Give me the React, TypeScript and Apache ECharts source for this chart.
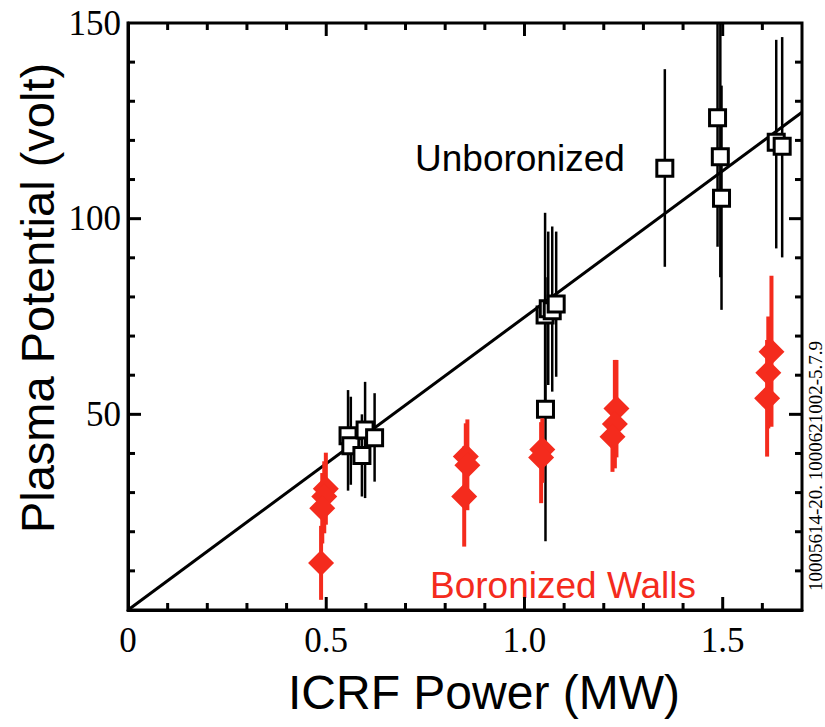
import React, { useEffect, useRef } from "react";
import * as echarts from "echarts";

// Unboronized walls: ICRF power (MW), plasma potential (V), error bar low / high
const unbPower = [0.555, 0.562, 0.598, 0.590, 0.622, 1.052, 1.060, 1.070, 1.080, 1.053, 1.354, 1.487, 1.494, 1.497, 1.635, 1.650];
const unbPotential = [44.5, 42.0, 46.0, 39.5, 44.0, 75.4, 77.0, 76.5, 78.2, 51.3, 112.9, 125.8, 115.8, 105.2, 119.5, 118.5];
const unbLow = [30.5, 32.0, 28.6, 29.0, 32.8, 50.0, 57.5, 55.8, 59.6, 17.6, 87.7, 92.8, 85.0, 76.7, 92.4, 90.1];
const unbHigh = [56.2, 54.5, 58.3, 50.0, 55.4, 101.5, 96.7, 98.0, 96.7, 85.0, 138.2, 159.0, 152.0, 134.0, 145.7, 146.4];

// Boronized walls
const borPower = [0.499, 0.495, 0.490, 0.487, 0.852, 0.856, 0.848, 1.045, 1.042, 1.232, 1.228, 1.222, 1.623, 1.615, 1.612];
const borPotential = [31.0, 29.0, 26.0, 12.0, 39.2, 37.0, 29.0, 41.0, 39.0, 51.5, 47.5, 44.3, 66.0, 60.6, 54.1];
const borLow = [21.8, 19.6, 17.0, 2.6, 30.5, 25.5, 16.2, 32.5, 27.3, 39.0, 36.2, 35.3, 46.8, 46.4, 39.2];
const borHigh = [40.2, 38.0, 35.0, 21.5, 47.7, 48.7, 41.8, 49.0, 48.0, 63.9, 63.9, 53.0, 85.4, 75.0, 69.0];

// Linear fit through the unboronized points
const fitPower = [0, 1.7];
const fitPotential = [0, 127.2];

// Tick positions on the frame (inward ticks on all four sides)
const xMajorTicks = [0.5, 1.0, 1.5];
const xMinorTicks = [0.1, 0.2, 0.3, 0.4, 0.6, 0.7, 0.8, 0.9, 1.1, 1.2, 1.3, 1.4, 1.6];
const yMajorTicks = [50, 100];
const yMinorTicks = [10, 20, 30, 40, 60, 70, 80, 90, 110, 120, 130, 140];

const X_MIN = 0;
const X_MAX = 1.7;
const Y_MIN = 0;
const Y_MAX = 150;

const RED = "#f42b1d";
const SERIF = "'Liberation Serif', 'Times New Roman', serif";
const SANS = "'Liberation Sans', Arial, sans-serif";
const TICK_STYLE = { stroke: "#000", lineWidth: 3 };

const errorBars = (xs: number[], lo: number[], hi: number[], color: string, width: number) => ({
  type: "custom",
  clip: true,
  xAxisIndex: 0,
  yAxisIndex: 0,
  encode: { x: 0, y: [1, 2] },
  data: xs.map((x, i) => [x, lo[i], hi[i]]),
  renderItem: (_params: any, api: any) => {
    const x = api.value(0);
    const a = api.coord([x, api.value(1)]);
    const b = api.coord([x, api.value(2)]);
    return {
      type: "line",
      shape: { x1: a[0], y1: a[1], x2: b[0], y2: b[1] },
      style: { stroke: color, lineWidth: width },
    };
  },
});

// Ticks on the bottom and top edges at the given power values
const xTicks = (values: number[], len: number) => ({
  type: "custom",
  clip: false,
  silent: true,
  z: 10,
  xAxisIndex: 0,
  yAxisIndex: 0,
  encode: { x: 0, y: 1 },
  data: values.map((v) => [v, Y_MIN]),
  renderItem: (_params: any, api: any) => {
    const v = api.value(0);
    const b = api.coord([v, Y_MIN]);
    const t = api.coord([v, Y_MAX]);
    return {
      type: "group",
      children: [
        { type: "line", shape: { x1: b[0], y1: b[1], x2: b[0], y2: b[1] - len }, style: TICK_STYLE },
        { type: "line", shape: { x1: t[0], y1: t[1], x2: t[0], y2: t[1] + len }, style: TICK_STYLE },
      ],
    };
  },
});

// Ticks on the left and right edges at the given potential values
const yTicks = (values: number[], len: number) => ({
  type: "custom",
  clip: false,
  silent: true,
  z: 10,
  xAxisIndex: 0,
  yAxisIndex: 0,
  encode: { x: 0, y: 1 },
  data: values.map((v) => [X_MIN, v]),
  renderItem: (_params: any, api: any) => {
    const v = api.value(1);
    const l = api.coord([X_MIN, v]);
    const r = api.coord([X_MAX, v]);
    return {
      type: "group",
      children: [
        { type: "line", shape: { x1: l[0], y1: l[1], x2: l[0] + len, y2: l[1] }, style: TICK_STYLE },
        { type: "line", shape: { x1: r[0], y1: r[1], x2: r[0] - len, y2: r[1] }, style: TICK_STYLE },
      ],
    };
  },
});

const label = (text: string, x: number, y: number, font: string, fill: string, align: string, rotation = 0) => ({
  type: "text",
  x,
  y,
  rotation,
  style: {
    text,
    font,
    fill,
    textAlign: align,
    textVerticalAlign: "middle",
    align,
    verticalAlign: "middle",
  },
});

export default function App() {
  const ref = useRef<HTMLDivElement>(null);

  useEffect(() => {
    if (!ref.current) return;
    const chart = echarts.init(ref.current, undefined, { renderer: "svg" });
    chart.setOption({
      animation: false,
      grid: {
        left: 128,
        right: 23,
        top: 23,
        bottom: 117,
        show: true,
        borderColor: "#000",
        borderWidth: 3,
        backgroundColor: "transparent",
      },
      xAxis: {
        type: "value",
        min: X_MIN,
        max: X_MAX,
        interval: 0.5,
        axisLine: { show: true, onZero: false, lineStyle: { color: "#000", width: 3 } },
        axisTick: { show: false },
        axisLabel: {
          show: true,
          showMaxLabel: false,
          margin: 13,
          fontFamily: SERIF,
          fontSize: 35,
          color: "#000",
          formatter: (v: number) => (v === 0 ? "0" : v.toFixed(1)),
        },
        splitLine: { show: false },
      },
      yAxis: {
        type: "value",
        min: Y_MIN,
        max: Y_MAX,
        interval: 50,
        axisLine: { show: true, onZero: false, lineStyle: { color: "#000", width: 3 } },
        axisTick: { show: false },
        axisLabel: {
          show: true,
          margin: 7,
          fontFamily: SERIF,
          fontSize: 35,
          color: "#000",
          formatter: (v: number) => (v === 0 ? "" : String(v)),
        },
        splitLine: { show: false },
      },
      series: [
        xTicks(xMinorTicks, 7),
        xTicks(xMajorTicks, 13),
        yTicks(yMinorTicks, 7),
        yTicks(yMajorTicks, 13),
        {
          type: "line",
          data: fitPower.map((x, i) => [x, fitPotential[i]]),
          symbol: "none",
          lineStyle: { color: "#000", width: 3 },
          z: 1,
        },
        { ...errorBars(unbPower, unbLow, unbHigh, "#000", 2.5), z: 2 },
        {
          type: "scatter",
          data: unbPower.map((x, i) => [x, unbPotential[i]]),
          symbol: "rect",
          symbolSize: 16,
          itemStyle: { color: "#fff", borderColor: "#000", borderWidth: 3, opacity: 1 },
          z: 3,
        },
        { ...errorBars(borPower, borLow, borHigh, RED, 4), z: 4 },
        {
          type: "scatter",
          data: borPower.map((x, i) => [x, borPotential[i]]),
          symbol: "diamond",
          symbolSize: 26,
          itemStyle: { color: RED, opacity: 1 },
          z: 5,
        },
      ],
      graphic: [
        label("Unboronized", 415, 158, `37px ${SANS}`, "#000", "left"),
        label("Boronized Walls", 430, 585, `37px ${SANS}`, RED, "left"),
        label("ICRF Power (MW)", 484, 692, `48px ${SANS}`, "#000", "center"),
        label("Plasma Potential (volt)", 37, 298, `47px ${SANS}`, "#000", "center", Math.PI / 2),
        label("10005614-20. 1000621002-5.7.9", 815, 466, `19px ${SERIF}`, "#000", "center", Math.PI / 2),
      ],
    });
    return () => chart.dispose();
  }, []);

  return (
    <div
      ref={ref}
      style={{ position: "fixed", left: 0, top: 0, width: 825, height: 727, background: "#fff" }}
    />
  );
}
